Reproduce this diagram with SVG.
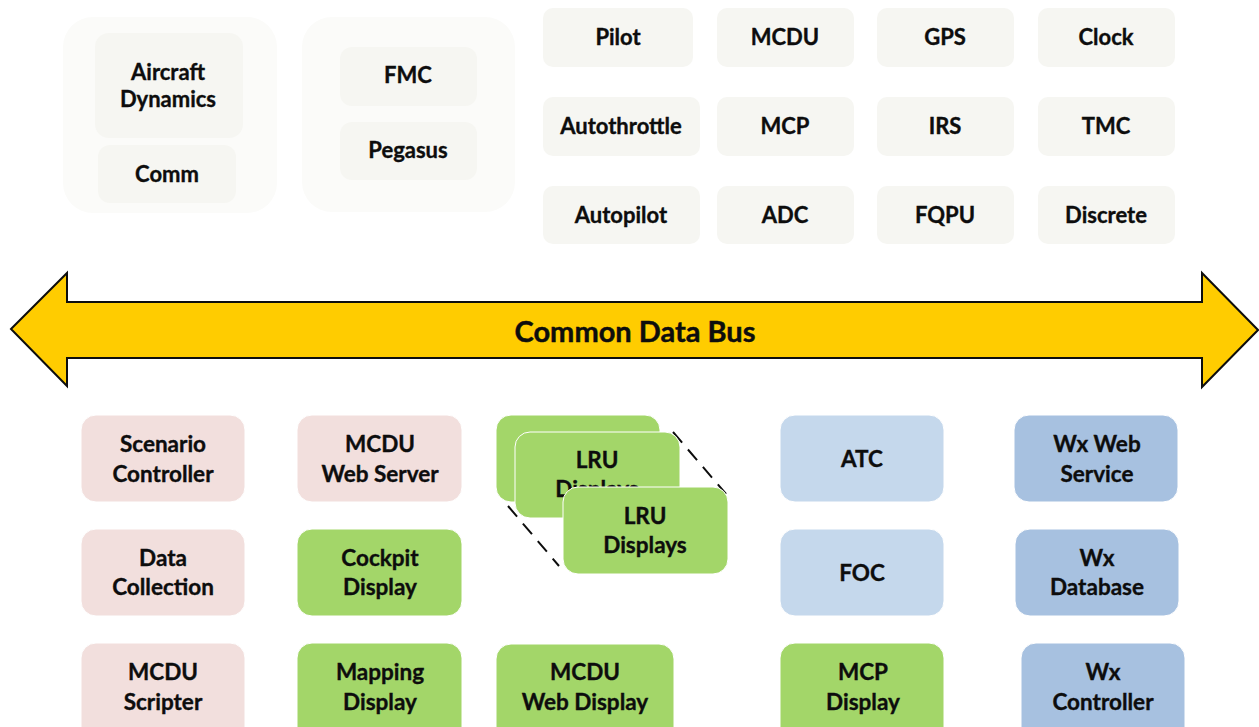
<svg xmlns="http://www.w3.org/2000/svg" width="1259" height="727" viewBox="0 0 1259 727">
  <style>
    text { font-family: Lato, "Open Sans", "Liberation Sans", sans-serif; font-weight: 700; fill: #0d0d0d; stroke: #0d0d0d; stroke-width: 0.35; text-anchor: middle; }
    .t { font-size: 22px; }
    .b { font-size: 22.5px; }
    .bus { font-size: 29px; stroke-width: 0.45; }
    .grp { fill: #fbfbf9; }
    .sub { fill: #f6f6f2; }
    .cell { fill: #f6f6f2; }
    .pink { fill: #f2dfdd; stroke: #ffffff; stroke-width: 1; }
    .green { fill: #a3d669; stroke: #ffffff; stroke-width: 1; }
    .lblue { fill: #c5d8ec; stroke: #ffffff; stroke-width: 1; }
    .dblue { fill: #a7c1e0; stroke: #ffffff; stroke-width: 1; }
  </style>
  <rect width="1259" height="727" fill="#ffffff"/>

  <!-- simulation host groups -->
  <g id="host-dynamics">
    <rect class="grp" x="63" y="17" width="214" height="196" rx="30"/>
    <g id="aircraft-dynamics">
      <rect class="sub" x="95" y="33" width="148" height="105" rx="14"/>
      <text class="t" x="168" y="80">Aircraft</text>
      <text class="t" x="168" y="107">Dynamics</text>
    </g>
    <g id="comm">
      <rect class="sub" x="98" y="145" width="138" height="58" rx="12"/>
      <text class="t" x="167" y="182">Comm</text>
    </g>
  </g>
  <g id="host-fmc">
    <rect class="grp" x="302" y="17" width="213" height="195" rx="30"/>
    <g id="fmc">
      <rect class="sub" x="340" y="47" width="137" height="59" rx="12"/>
      <text class="t" x="408" y="83">FMC</text>
    </g>
    <g id="pegasus">
      <rect class="sub" x="340" y="122" width="137" height="58" rx="12"/>
      <text class="t" x="408" y="158">Pegasus</text>
    </g>
  </g>

  <!-- avionics models -->
  <g id="pilot"><rect class="cell" x="543" y="8" width="150" height="59" rx="10"/><text class="t" x="618" y="45">Pilot</text></g>
  <g id="mcdu"><rect class="cell" x="717" y="8" width="137" height="59" rx="10"/><text class="t" x="785" y="45">MCDU</text></g>
  <g id="gps"><rect class="cell" x="877" y="8" width="137" height="59" rx="10"/><text class="t" x="945" y="45">GPS</text></g>
  <g id="clock"><rect class="cell" x="1038" y="8" width="137" height="59" rx="10"/><text class="t" x="1106" y="45">Clock</text></g>

  <g id="autothrottle"><rect class="cell" x="543" y="97" width="157" height="59" rx="10"/><text class="t" x="621" y="134">Autothrottle</text></g>
  <g id="mcp"><rect class="cell" x="717" y="97" width="137" height="59" rx="10"/><text class="t" x="785" y="134">MCP</text></g>
  <g id="irs"><rect class="cell" x="877" y="97" width="137" height="59" rx="10"/><text class="t" x="945" y="134">IRS</text></g>
  <g id="tmc"><rect class="cell" x="1038" y="97" width="137" height="59" rx="10"/><text class="t" x="1106" y="134">TMC</text></g>

  <g id="autopilot"><rect class="cell" x="543" y="186" width="157" height="58" rx="10"/><text class="t" x="621" y="223">Autopilot</text></g>
  <g id="adc"><rect class="cell" x="717" y="186" width="137" height="58" rx="10"/><text class="t" x="785" y="223">ADC</text></g>
  <g id="fqpu"><rect class="cell" x="877" y="186" width="137" height="58" rx="10"/><text class="t" x="945" y="223">FQPU</text></g>
  <g id="discrete"><rect class="cell" x="1038" y="186" width="137" height="58" rx="10"/><text class="t" x="1106" y="223">Discrete</text></g>

  <!-- shared data bus -->
  <g id="connectors">
    <g id="common-data-bus">
      <polygon points="11,329 67,273 67,302 1202,302 1202,273 1258,330 1202,387 1202,358 67,358 67,386"
               fill="#ffcc00" stroke="#0d0d0d" stroke-width="2" stroke-linejoin="miter"/>
      <text class="bus" x="635" y="342">Common Data Bus</text>
    </g>
    <!-- stack outline of the LRU display set -->
    <line x1="673" y1="432" x2="726" y2="494" stroke="#0d0d0d" stroke-width="2" stroke-dasharray="14,9"/>
    <line x1="508" y1="506" x2="559" y2="566" stroke="#0d0d0d" stroke-width="2" stroke-dasharray="14,9"/>
  </g>

  <!-- tools column -->
  <g id="scenario-controller"><rect class="pink" x="81" y="415" width="164" height="87" rx="15"/><text class="b" x="163" y="452">Scenario</text><text class="b" x="163" y="482">Controller</text></g>
  <g id="data-collection"><rect class="pink" x="81" y="529" width="164" height="87" rx="15"/><text class="b" x="163" y="566">Data</text><text class="b" x="163" y="595">Collection</text></g>
  <g id="mcdu-scripter"><rect class="pink" x="81" y="643" width="164" height="100" rx="15"/><text class="b" x="163" y="680">MCDU</text><text class="b" x="163" y="710">Scripter</text></g>

  <g id="mcdu-web-server"><rect class="pink" x="297" y="415" width="165" height="87" rx="15"/><text class="b" x="380" y="452">MCDU</text><text class="b" x="380" y="482">Web Server</text></g>
  <g id="cockpit-display"><rect class="green" x="297" y="529" width="165" height="87" rx="15"/><text class="b" x="380" y="566">Cockpit</text><text class="b" x="380" y="595">Display</text></g>
  <g id="mapping-display"><rect class="green" x="297" y="643" width="165" height="100" rx="15"/><text class="b" x="380" y="680">Mapping</text><text class="b" x="380" y="710">Display</text></g>

  <!-- LRU displays stack -->
  <g id="lru-displays-back">
    <rect class="green" x="496" y="415" width="164" height="87" rx="15"/>
    <rect class="green" x="515" y="432" width="165" height="86" rx="15"/>
    <text class="b" x="597" y="468">LRU</text>
    <text class="b" x="597" y="497">Displays</text>
  </g>
  <g id="lru-displays">
    <rect class="green" x="563" y="487" width="165" height="87" rx="15"/>
    <text class="b" x="645" y="524">LRU</text>
    <text class="b" x="645" y="553">Displays</text>
  </g>
  <g id="mcdu-web-display"><rect class="green" x="496" y="644" width="178" height="100" rx="15"/><text class="b" x="585" y="680">MCDU</text><text class="b" x="585" y="710">Web Display</text></g>

  <!-- external services -->
  <g id="atc"><rect class="lblue" x="780" y="415" width="164" height="87" rx="15"/><text class="b" x="862" y="467">ATC</text></g>
  <g id="foc"><rect class="lblue" x="780" y="529" width="164" height="87" rx="15"/><text class="b" x="862" y="581">FOC</text></g>
  <g id="mcp-display"><rect class="green" x="780" y="643" width="164" height="100" rx="15"/><text class="b" x="863" y="680">MCP</text><text class="b" x="863" y="710">Display</text></g>

  <g id="wx-web-service"><rect class="dblue" x="1014" y="415" width="164" height="87" rx="15"/><text class="b" x="1097" y="452">Wx Web</text><text class="b" x="1097" y="482">Service</text></g>
  <g id="wx-database"><rect class="dblue" x="1015" y="529" width="164" height="87" rx="15"/><text class="b" x="1097" y="566">Wx</text><text class="b" x="1097" y="595">Database</text></g>
  <g id="wx-controller"><rect class="dblue" x="1021" y="643" width="164" height="100" rx="15"/><text class="b" x="1103" y="680">Wx</text><text class="b" x="1103" y="710">Controller</text></g>
</svg>
